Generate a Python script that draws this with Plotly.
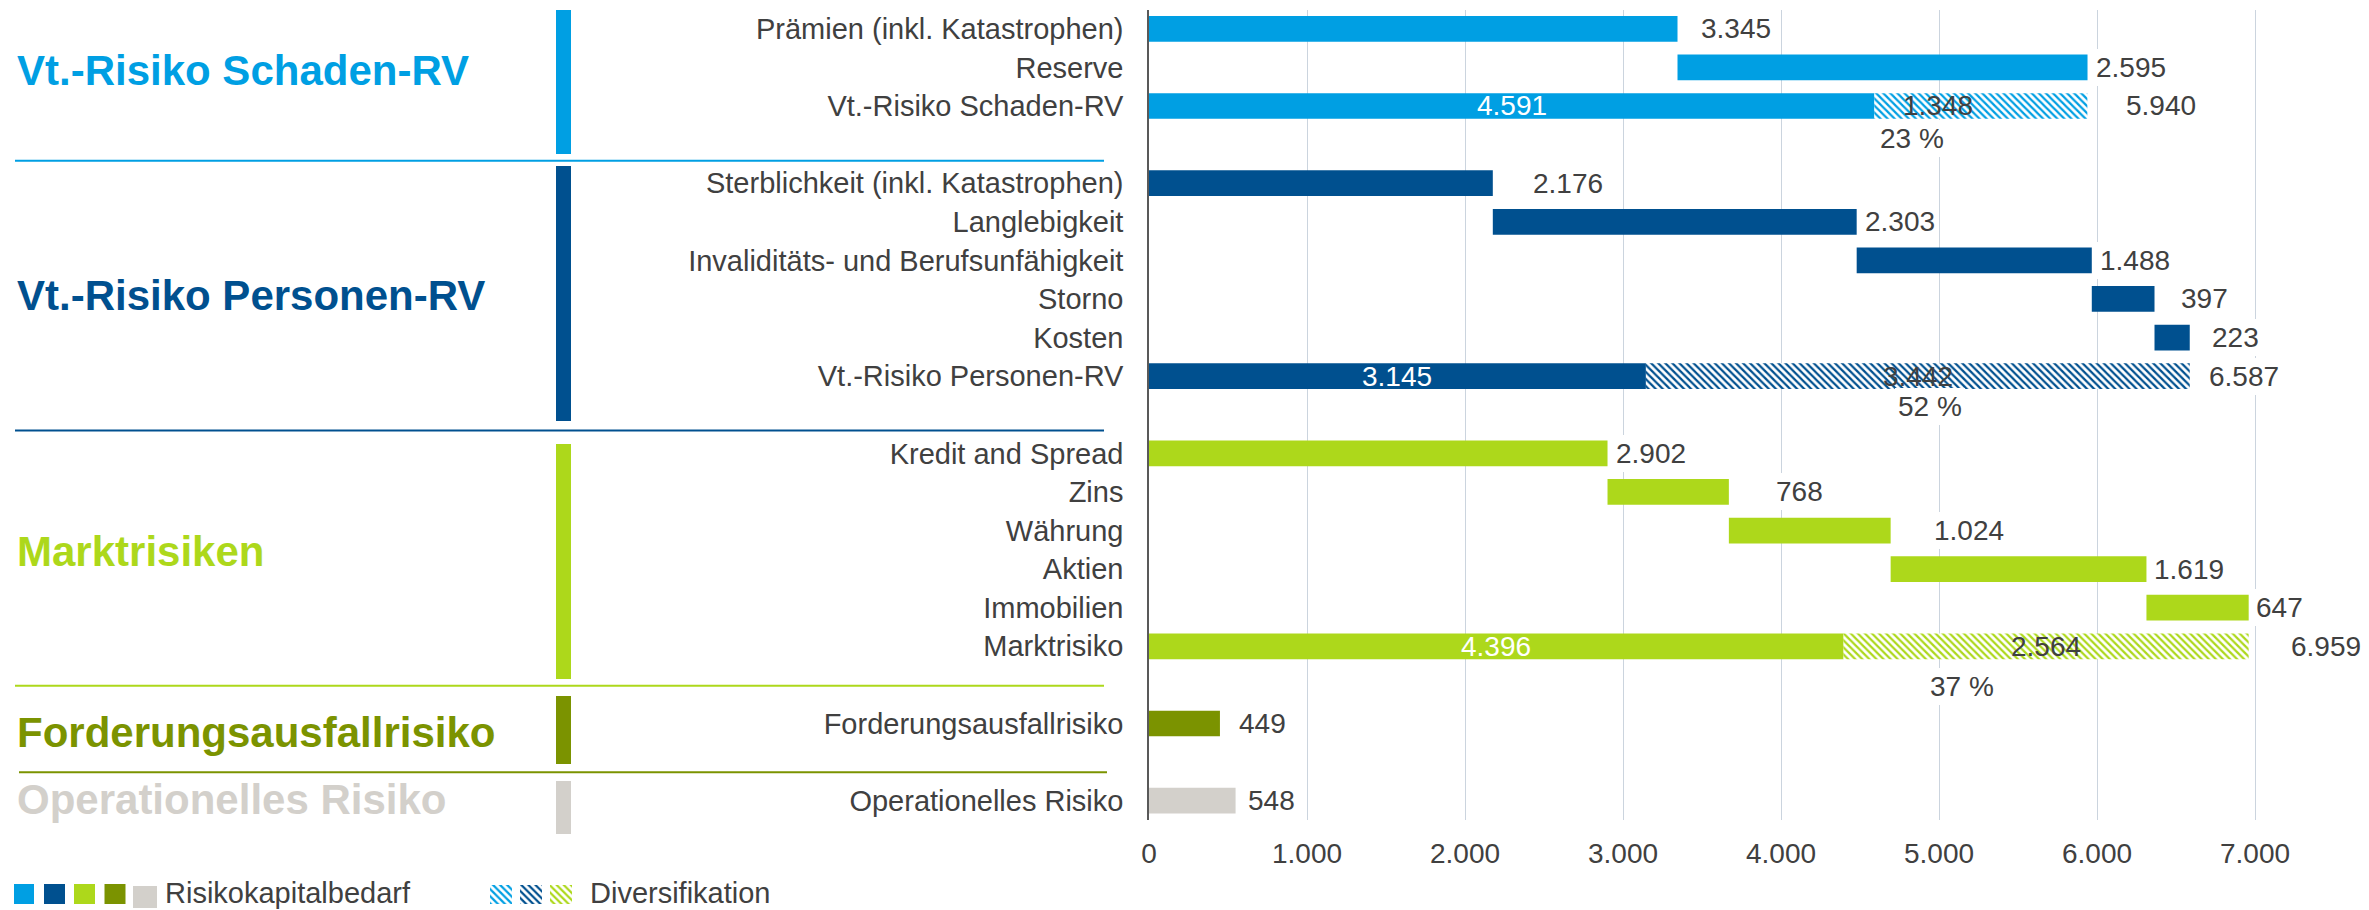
import plotly.graph_objects as go

# ---------------- data (Mio. EUR) ----------------
schaden_items = ["Prämien (inkl. Katastrophen)", "Reserve"]
schaden_values = [3345, 2595]

personen_items = ["Sterblichkeit (inkl. Katastrophen)", "Langlebigkeit",
                  "Invaliditäts- und Berufsunfähigkeit", "Storno", "Kosten"]
personen_values = [2176, 2303, 1488, 397, 223]

markt_items = ["Kredit and Spread", "Zins", "Währung", "Aktien", "Immobilien"]
markt_values = [2902, 768, 1024, 1619, 647]

forderung_items = ["Forderungsausfallrisiko"]
forderung_values = [449]

operationell_items = ["Operationelles Risiko"]
operationell_values = [548]

# aggregated rows: requirement after diversification, diversification, sum of components
total_labels = ["Vt.-Risiko Schaden-RV", "Vt.-Risiko Personen-RV", "Marktrisiko"]
total_net = [4591, 3145, 4396]
total_div = [1348, 3442, 2564]
total_gross = [5940, 6587, 6959]

group_titles = ["Vt.-Risiko Schaden-RV", "Vt.-Risiko Personen-RV", "Marktrisiken",
                "Forderungsausfallrisiko", "Operationelles Risiko"]
x_ticks = [0, 1000, 2000, 3000, 4000, 5000, 6000, 7000]
legend_texts = ["Risikokapitalbedarf", "Diversifikation"]

# ---------------- styling ----------------
W, H = 2369, 910
PLOT_LEFT, PLOT_TOP, PLOT_BOTTOM = 1149.0, 9.5, 820.0
PX_PER_UNIT = 0.158
X_MAX = 7500
N_SLOTS = 21
SLOT_PX = (PLOT_BOTTOM - PLOT_TOP) / N_SLOTS
BAR_W = 0.666

FONT = "Arial, 'Liberation Sans', sans-serif"
TEXT = "#404040"
GRID = "#CBD4DE"
COLORS = ["#009FE3", "#00508F", "#ADD81B", "#7B9300", "#D3D0CB"]
PAD = 3

# gap (px) between bar end and its value label
item_gaps = [[23, 8], [40, 8, 8, 26, 22], [8, 47, 43, 8, 7], [19], [12]]
total_gaps = [39, 19, 42]
div_label_dx = [-43, 0, 0]
pct_dx = [-69, 12, -84]
pct_dy = [6, 8, -2]
title_slots = [1.07, 6.9, 13.55, 18.22, 19.98]
sep_slots = [3.42, 10.41, 17.02, 19.26]
sep_x = [(15, 1104), (15, 1104), (15, 1104), (19, 1107)]
marker_px = [(10, 154), (166, 421), (444, 679), (696, 764), (781, 834)]
marker_x = (556, 571)


def fmt(v):
    return f"{v:,}".replace(",", ".")


def py_slot(s):
    return PLOT_TOP + (s + 0.5) * SLOT_PX


def pap_x(px):
    return px / W


def pap_y(py):
    return 1 - py / H


def label(x, y, text, xshift=0, yshift=0, xanchor="left", color=TEXT,
          bg="white", size=28):
    return dict(x=x, y=y, xref="x", yref="y", text=text, showarrow=False,
                xanchor=xanchor, yanchor="middle", xshift=xshift, yshift=yshift,
                font=dict(family=FONT, size=size, color=color),
                bgcolor=bg, borderpad=PAD, borderwidth=0)


def hatch(color):
    return dict(color="white", line=dict(width=0),
                pattern=dict(shape="\\", fgcolor=color, bgcolor="white",
                             size=5, solidity=0.45))


fig = go.Figure()
annotations, shapes = [], []
tickvals, ticktext = [], []

item_groups = [(schaden_items, schaden_values), (personen_items, personen_values),
               (markt_items, markt_values), (forderung_items, forderung_values),
               (operationell_items, operationell_values)]

slot = 0
for g, (items, values) in enumerate(item_groups):
    color = COLORS[g]
    ys = [slot + i for i in range(len(items))]
    bases = [sum(values[:i]) for i in range(len(values))]
    fig.add_trace(go.Bar(y=ys, x=values, base=bases, orientation="h", width=BAR_W,
                         marker=dict(color=color, line=dict(width=0)),
                         hoverinfo="skip"))
    for y, b, v, gap in zip(ys, bases, values, item_gaps[g]):
        annotations.append(label(b + v, y, fmt(v), xshift=gap - PAD))
    tickvals += ys
    ticktext += items
    slot += len(items)
    if g < 3:
        net, div, gross = total_net[g], total_div[g], total_gross[g]
        fig.add_trace(go.Bar(y=[slot], x=[net], base=[0], orientation="h", width=BAR_W,
                             marker=dict(color=color, line=dict(width=0)),
                             hoverinfo="skip"))
        fig.add_trace(go.Bar(y=[slot], x=[div], base=[net], orientation="h", width=BAR_W,
                             marker=hatch(color), hoverinfo="skip"))
        annotations.append(label(net / 2, slot, fmt(net), xanchor="center",
                                 color="white", bg="rgba(0,0,0,0)"))
        annotations.append(label(net + div / 2, slot, fmt(div), xanchor="center",
                                 xshift=div_label_dx[g], bg="rgba(0,0,0,0)"))
        annotations.append(label(net + div, slot, fmt(gross), xshift=total_gaps[g] - PAD))
        annotations.append(label(net + div / 2, slot + 1, f"{round(100 * div / gross)} %",
                                 xanchor="center", xshift=pct_dx[g], yshift=pct_dy[g]))
        tickvals.append(slot)
        ticktext.append(total_labels[g])
        slot += 2
    elif g == 3:
        slot += 1

# group titles on the left
for g, title in enumerate(group_titles):
    annotations.append(dict(x=pap_x(15), y=title_slots[g], xref="paper", yref="y",
                            text=f"<b>{title}</b>", showarrow=False,
                            xanchor="left", yanchor="middle",
                            font=dict(family=FONT, size=42, color=COLORS[g])))

# vertical group markers and separators
for g in range(5):
    y0, y1 = marker_px[g]
    shapes.append(dict(type="rect", xref="paper", yref="paper",
                       x0=pap_x(marker_x[0]), x1=pap_x(marker_x[1]),
                       y0=pap_y(y1), y1=pap_y(y0),
                       fillcolor=COLORS[g], line=dict(width=0)))
for g, s in enumerate(sep_slots):
    yy = pap_y(py_slot(s))
    shapes.append(dict(type="line", xref="paper", yref="paper",
                       x0=pap_x(sep_x[g][0]), x1=pap_x(sep_x[g][1]), y0=yy, y1=yy,
                       line=dict(color=COLORS[g], width=2)))

# legend: solid swatches
swatch_x = [(14, 34), (44, 65), (74, 95), (104.5, 125.5), (133, 157)]
swatch_y = [(884, 904)] * 4 + [(886, 908)]
for g in range(5):
    shapes.append(dict(type="rect", xref="paper", yref="paper",
                       x0=pap_x(swatch_x[g][0]), x1=pap_x(swatch_x[g][1]),
                       y0=pap_y(swatch_y[g][1]), y1=pap_y(swatch_y[g][0]),
                       fillcolor=COLORS[g], line=dict(width=0)))
# legend: hatched swatches drawn as a tiny bar chart
fig.add_trace(go.Bar(x=[0, 1, 2], y=[1, 1, 1], xaxis="x2", yaxis="y2", width=0.733,
                     marker=dict(color="white", line=dict(width=0),
                                 pattern=dict(shape="\\", fgcolor=COLORS[:3], bgcolor="white",
                                              size=5, solidity=0.45)),
                     hoverinfo="skip"))
for txt, lx in zip(legend_texts, [163, 588]):
    annotations.append(dict(x=pap_x(lx), y=pap_y(893), xref="paper", yref="paper",
                            text=txt, showarrow=False, xanchor="left", yanchor="middle",
                            font=dict(family=FONT, size=29, color=TEXT)))

fig.update_layout(
    width=W, height=H, template="none", showlegend=False,
    margin=dict(l=0, r=0, t=0, b=0, pad=0),
    paper_bgcolor="white", plot_bgcolor="white",
    separators=",.", barmode="overlay",
    font=dict(family=FONT, color=TEXT),
    xaxis=dict(domain=[pap_x(PLOT_LEFT), pap_x(PLOT_LEFT + X_MAX * PX_PER_UNIT)],
               range=[0, X_MAX], tickvals=x_ticks, tickformat=",.0f",
               showgrid=True, gridcolor=GRID, gridwidth=1.3, zeroline=False,
               showline=False, ticks="", ticklabelstandoff=14, automargin=False,
               tickfont=dict(family=FONT, size=28, color=TEXT), fixedrange=True),
    yaxis=dict(domain=[pap_y(PLOT_BOTTOM), pap_y(PLOT_TOP)],
               range=[N_SLOTS - 0.5, -0.5], tickvals=tickvals, ticktext=ticktext,
               showgrid=False, zeroline=False, showline=True, linecolor="#595959",
               linewidth=1.5, ticks="", ticklabelstandoff=18, automargin=False,
               tickfont=dict(family=FONT, size=29, color=TEXT), fixedrange=True),
    xaxis2=dict(domain=[pap_x(486), pap_x(576)], range=[-0.5, 2.5], anchor="y2",
                visible=False, fixedrange=True),
    yaxis2=dict(domain=[pap_y(904), pap_y(885)], range=[0, 1], anchor="x2",
                visible=False, fixedrange=True),
    annotations=annotations, shapes=shapes,
)

fig.write_html("out.html")
